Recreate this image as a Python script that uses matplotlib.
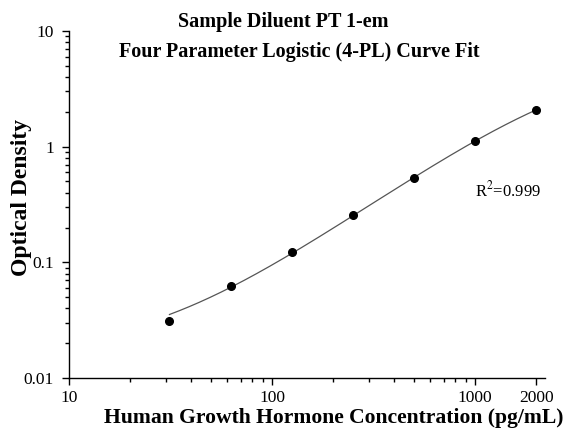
import numpy as np
import matplotlib
matplotlib.use("Agg")
import matplotlib.pyplot as plt
from matplotlib.ticker import FixedLocator, LogLocator, NullFormatter, FuncFormatter

# Data
concentration = [31.25, 62.5, 125, 250, 500, 1000, 2000]
od = [0.031, 0.062, 0.123, 0.256, 0.535, 1.12, 2.08]
x_ticks = [10, 100, 1000, 2000]
y_ticks = [0.01, 0.1, 1, 10]
title_lines = ["Sample Diluent PT 1-em", "Four Parameter Logistic (4-PL) Curve Fit"]
r2_text = "R$^2$=0.999"

# 4PL fit (Levenberg-Marquardt, numpy only)
x = np.array(concentration, float)
y = np.array(od, float)

def model(p, xx):
    a, b, logc, d = p
    return d + (a - d) / (1.0 + (xx / 10**logc) ** b)

p = np.array([0.01, 1.0, np.log10(3000), 6.0])
lam = 1e-2
for _ in range(2000):
    r = y - model(p, x)
    J = np.zeros((len(x), 4))
    for k in range(4):
        dp = np.zeros(4); h = 1e-6 * max(1, abs(p[k])); dp[k] = h
        J[:, k] = (model(p + dp, x) - model(p - dp, x)) / (2 * h)
    A = J.T @ J
    g = J.T @ r
    step = np.linalg.solve(A + lam * np.diag(np.diag(A) + 1e-12), g)
    pn = p + step
    if np.sum((y - model(pn, x))**2) < np.sum(r**2):
        p = pn; lam *= 0.5
    else:
        lam *= 3
xf = np.logspace(np.log10(x.min()), np.log10(x.max()), 300)
yf = model(p, xf)

plt.rcParams['font.family'] = ['Liberation Serif']
plt.rcParams['mathtext.fontset'] = 'stix'

W, H = 568, 430
fig = plt.figure(figsize=(W/100, H/100), dpi=100)
ax = fig.add_axes([69/W, 1-378/H, (545-69)/W, (378-31)/H])

ax.plot(xf, yf, color='#555555', lw=0.9, zorder=2)
ax.plot(concentration, od, 'o', color='black', ms=5.5, zorder=3)

ax.set_xscale('log'); ax.set_yscale('log')
ax.set_xlim(10, 2210)
ax.set_ylim(0.01, 10)
for s in ['top', 'right']:
    ax.spines[s].set_visible(False)
for s in ['left', 'bottom']:
    ax.spines[s].set_linewidth(1.0)

ax.xaxis.set_major_locator(FixedLocator(x_ticks))
ax.xaxis.set_major_formatter(FuncFormatter(lambda v, _: f"{v:g}"))
ax.xaxis.set_minor_locator(LogLocator(base=10, subs=np.arange(2, 10)))
ax.xaxis.set_minor_formatter(NullFormatter())
ax.yaxis.set_major_locator(FixedLocator(y_ticks))
ax.yaxis.set_major_formatter(FuncFormatter(lambda v, _: f"{v:g}"))
ax.yaxis.set_minor_locator(LogLocator(base=10, subs=np.arange(2, 10)))
ax.yaxis.set_minor_formatter(NullFormatter())
ax.tick_params(which='major', direction='out', length=5, width=1, labelsize=12.5)
ax.tick_params(axis='x', which='major', pad=4)
ax.tick_params(axis='y', which='major', pad=6)
ax.tick_params(which='minor', direction='out', length=3, width=1)

fig.text(334/W, 1-423/H, "Human Growth Hormone Concentration (pg/mL)", ha='center', va='baseline',
         fontsize=15.6, fontweight='bold')
fig.text(22/W, 1-197/H, "Optical Density", ha='center', va='center', rotation=90,
         fontsize=17, fontweight='bold')

fig.text(283/W, 1-27/H, title_lines[0], ha='center', va='baseline', fontsize=14.5, fontweight='bold')
fig.text(299/W, 1-57/H, title_lines[1], ha='center', va='baseline', fontsize=14.5, fontweight='bold')

ax.text(475/W, 1-190/H, r2_text, transform=fig.transFigure, fontsize=12, ha='left', va='center')

fig.savefig("out.png", dpi=100)
